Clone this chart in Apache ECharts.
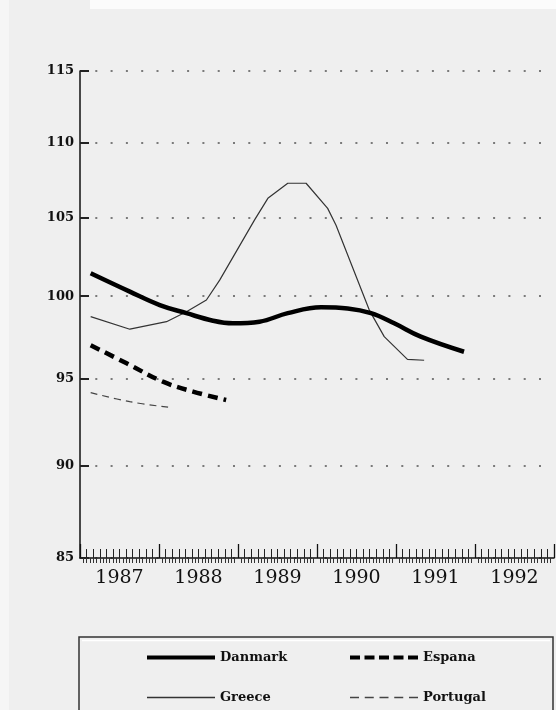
<!DOCTYPE html>
<html>
<head>
<meta charset="utf-8">
<script src="https://cdn.jsdelivr.net/npm/echarts@6/dist/echarts.min.js"></script>
<style>
html,body{margin:0;padding:0;background:#efefef;}
#c{width:556px;height:710px;}
</style>
</head>
<body>
<div id="c"></div>
<script>
var yTicks = [85, 90, 95, 100, 105, 110, 115];
var yearLabels = [1987, 1988, 1989, 1990, 1991, 1992];
var seriesNames = ['Danmark', 'Espana', 'Greece', 'Portugal'];

var danmark = [[1987.135,101.43],[1987.631,100.28],[1988.01,99.45],[1988.347,98.95],[1988.683,98.49],[1988.936,98.33],[1989.273,98.43],[1989.63,98.95],[1990.052,99.31],[1990.388,99.24],[1990.683,98.95],[1990.977,98.33],[1991.314,97.52],[1991.861,96.61]];
var espana = [[1987.135,97.0],[1987.59,95.92],[1988.05,94.83],[1988.43,94.25],[1988.85,93.76]];
var greece = [[1987.135,98.74],[1987.631,97.97],[1988.095,98.43],[1988.347,99.04],[1988.6,99.76],[1988.768,101.0],[1989.21,104.85],[1989.378,106.26],[1989.63,107.26],[1989.862,107.26],[1990.135,105.6],[1990.241,104.5],[1990.662,99.14],[1990.851,97.52],[1991.145,96.15],[1991.356,96.1]];
var portugal = [[1987.135,94.19],[1987.63,93.66],[1988.115,93.34]];

var serif = 'DejaVu Serif';
var legendText = {fontFamily: serif, fontSize: 13, fontWeight: 'bold', color: '#111'};

function dashPath(n, dash, gap, h) {
  var p = '';
  for (var i = 0; i < n; i++) {
    var x = i * (dash + gap);
    p += 'M' + x + ',0 H' + (x + dash) + ' V' + h + ' H' + x + ' Z ';
  }
  return 'path://' + p;
}
function mkLegend(name, left, top, icon, h) {
  return {
    data: [name], left: left, top: top, padding: 0,
    itemWidth: 68, itemHeight: h, icon: icon, textStyle: legendText
  };
}

var chart = echarts.init(document.getElementById('c'));
chart.setOption({
  backgroundColor: '#efefef',
  animation: false,
  graphic: [
    {type:'rect', shape:{x:90,y:0,width:466,height:9}, style:{fill:'#fbfbfb'}, silent:true, z:-10},
    {type:'rect', shape:{x:0,y:0,width:9,height:710}, style:{fill:'#f6f6f6'}, silent:true, z:-10},
    {type:'rect', shape:{x:79,y:637,width:474,height:100}, style:{fill:'none', stroke:'#333', lineWidth:1.5}, silent:true},
    {type:'line', shape:{x1:82,y1:640.5,x2:550,y2:640.5}, style:{stroke:'#ffffff', lineWidth:1.5}, silent:true}
  ],
  grid: {left: 80, right: 2, top: 71, bottom: 152},
  xAxis: [{
    type: 'value', min: 1987, max: 1993, interval: 1,
    axisLine: {show: true, lineStyle: {color: '#111', width: 1.5}},
    axisTick: {show: true, inside: true, length: 14, lineStyle: {color: '#111', width: 1.3}},
    minorTick: {show: true, splitNumber: 12, length: 9, lineStyle: {color: '#222', width: 1}},
    splitLine: {show: false},
    axisLabel: {
      customValues: yearLabels.map(function(y){return y + 0.5;}),
      formatter: function(v){ return String(Math.floor(v)); },
      fontFamily: serif, fontSize: 19, color: '#111', margin: 11
    }
  }, {
    type: 'value', min: 1987, max: 1993, interval: 1, position: 'bottom',
    axisLine: {show: false}, axisTick: {show: false}, axisLabel: {show: false},
    minorTick: {show: true, splitNumber: 24, length: 5, lineStyle: {color: '#333', width: 1}},
    splitLine: {show: false}
  }],
  yAxis: {
    type: 'log', min: 85, max: 115,
    axisLine: {show: true, lineStyle: {color: '#111', width: 1.5}},
    axisTick: {show: true, inside: true, length: 9, customValues: yTicks, lineStyle: {color: '#222', width: 2}},
    axisLabel: {
      customValues: yTicks,
      formatter: function(v){ return String(Math.round(v)); },
      fontFamily: serif, fontSize: 13, fontWeight: 'bold', color: '#111', margin: 6,
      padding: [6, 0, 0, 0]
    },
    splitLine: {show: true, lineStyle: {color: '#7a7a7a', width: 2, type: [2, 13.3]}},
    minorSplitLine: {show: false}
  },
  legend: [
    mkLegend('Danmark', 147, 651, 'path://M0,0 H68 V4 H0 Z', 4),
    mkLegend('Espana', 350, 651, dashPath(5, 10, 4.5, 4), 4),
    mkLegend('Greece', 147, 691, 'path://M0,0 H68 V1.3 H0 Z', 1.3),
    mkLegend('Portugal', 350, 691, dashPath(5, 9, 5.75, 1.3), 1.3)
  ],
  series: [{
    name: seriesNames[0], type: 'line', data: danmark, smooth: 0.4, symbol: 'none',
    lineStyle: {color: '#000', width: 4.5}, itemStyle: {color: '#000'}, z: 5
  }, {
    name: seriesNames[1], type: 'line', data: espana, smooth: 0.4, symbol: 'none',
    lineStyle: {color: '#000', width: 4.5, type: [10, 6]}, itemStyle: {color: '#000'}
  }, {
    name: seriesNames[2], type: 'line', data: greece, smooth: false, symbol: 'none',
    lineStyle: {color: '#333', width: 1.2}, itemStyle: {color: '#333'}
  }, {
    name: seriesNames[3], type: 'line', data: portugal, smooth: 0.4, symbol: 'none',
    lineStyle: {color: '#444', width: 1.2, type: [7, 5]}, itemStyle: {color: '#444'}
  }]
});
</script>
</body>
</html>
